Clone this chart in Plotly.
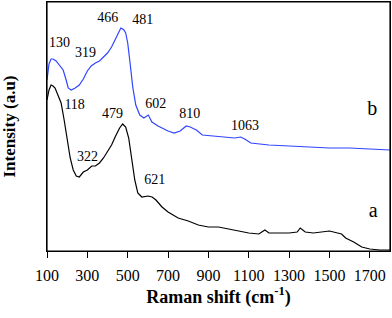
import plotly.graph_objects as go

# Curve a (black)
a_x = [100,110,120,130,140,155,170,185,200,215,230,245,260,280,300,322,340,360,380,400,420,440,460,475,490,505,520,535,550,570,600,621,640,670,700,750,800,850,900,950,1000,1050,1100,1150,1180,1200,1250,1300,1340,1355,1380,1420,1460,1500,1540,1560,1580,1620,1660,1700,1750,1800]
a_py = [100,90,85,86,88,95,103,120,140,158,170,176,177,172,170,166,166,163,158,152,145,136,128,124,127,138,157,180,193,197,196,197,200,207,212,218,221,225,227,227,229,231,233,234,230,233,233,233,232,228,232,233,232,231,233,234,238,242,247,249,250,250]
a_y = [252 - v for v in a_py]

# Curve b (blue)
b_x = [100,110,120,130,145,160,180,195,205,220,240,260,280,300,319,340,360,380,400,420,440,455,466,475,481,490,500,510,525,540,560,580,602,620,650,700,730,760,790,810,840,870,920,970,1030,1060,1080,1110,1200,1300,1400,1500,1600,1700,1800]
b_py = [80,64,59,59,61,65,70,80,88,90,88,85,79,71,66,63,61,57,53,47,39,33,28,29,30,33,43,60,87,105,115,118,115,122,126,131,133,131,126,127,130,135,136,137,138,137,139,143,145,146,147,148,148,149,150]
b_y = [252 - v for v in b_py]

# Peak labels
lab_text = ["130","319","466","481","602","810","1063","118","479","322","621"]
lab_x = [162,291,401,575,639,808,1081,237,425,301,634]
lab_y = [209,199,234,232,148,138,126,147,138,95,72]

# Curve letters
let_text = ["b","a"]
let_x = [1712,1717]
let_y = [142,40]

tick_vals = [100,300,500,700,900,1100,1300,1500,1700]

SERIF = "Times New Roman, Liberation Serif, serif"

fig = go.Figure()
fig.add_trace(go.Scatter(x=a_x, y=a_y, mode="lines", line=dict(color="black", width=1.2), showlegend=False))
fig.add_trace(go.Scatter(x=b_x, y=b_y, mode="lines", line=dict(color="#2f45ff", width=1.2), showlegend=False))
fig.add_trace(go.Scatter(x=lab_x, y=lab_y, mode="text", text=lab_text,
                         textfont=dict(family=SERIF, size=14, color="black"), showlegend=False))
fig.add_trace(go.Scatter(x=let_x, y=let_y, mode="text", text=let_text,
                         textfont=dict(family=SERIF, size=20, color="black"), showlegend=False))

fig.add_shape(type="rect", xref="paper", yref="paper", x0=0, x1=1, y0=0, y1=1,
              line=dict(color="black", width=1.2), layer="above")

fig.update_layout(
    width=392, height=318,
    margin=dict(l=47, r=2, t=2, b=67, autoexpand=False),
    paper_bgcolor="white", plot_bgcolor="white",
    font=dict(family=SERIF, color="black"),
    xaxis=dict(range=[100,1800], tickvals=tick_vals, ticks="outside", ticklen=6, tickwidth=1.2, tickcolor="black",
               showline=True, linecolor="black", linewidth=1, mirror=True, showgrid=False, zeroline=False,
               automargin=False,
               tickfont=dict(family=SERIF, size=16), ticklabelstandoff=4,
               title=dict(text="<b>Raman shift (cm<sup>-1</sup>)</b>", font=dict(family=SERIF, size=18), standoff=3)),
    yaxis=dict(range=[1,250], showticklabels=False, ticks="", showline=True, linecolor="black", linewidth=1,
               mirror=True, showgrid=False, zeroline=False, automargin=False,
               title=dict(text="<b>Intensity (a.u)</b>", font=dict(family=SERIF, size=17), standoff=26)),
)
fig.write_html("out.html", post_script="document.body.style.margin='0';",
               config={"displayModeBar": False})
